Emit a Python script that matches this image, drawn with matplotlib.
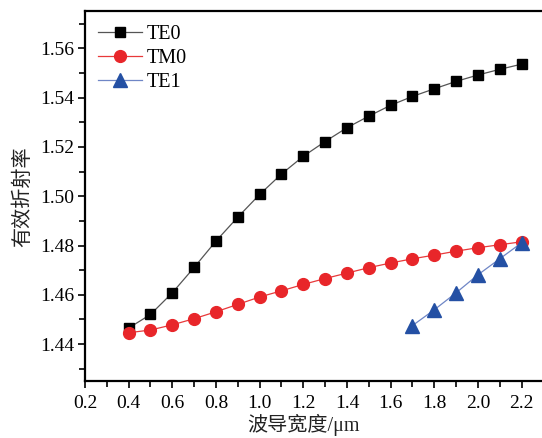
import matplotlib
matplotlib.use("Agg")
import matplotlib.pyplot as plt
from matplotlib.ticker import MultipleLocator

plt.rcParams['font.family'] = ['Liberation Serif', 'Noto Sans CJK SC']

width = [0.4, 0.5, 0.6, 0.7, 0.8, 0.9, 1.0, 1.1, 1.2, 1.3, 1.4, 1.5, 1.6, 1.7, 1.8, 1.9, 2.0, 2.1, 2.2]
te0 = [1.4465, 1.4520, 1.4608, 1.4711, 1.4818, 1.4915, 1.5007, 1.5090, 1.5162, 1.5222,
       1.5278, 1.5325, 1.5369, 1.5405, 1.5436, 1.5466, 1.5492, 1.5515, 1.5536]
tm0 = [1.4446, 1.4457, 1.4478, 1.4503, 1.4531, 1.4561, 1.4591, 1.4616, 1.4642, 1.4666,
       1.4688, 1.4710, 1.4729, 1.4746, 1.4761, 1.4777, 1.4791, 1.4803, 1.4815]
width_te1 = [1.7, 1.8, 1.9, 2.0, 2.1, 2.2]
te1 = [1.4475, 1.4539, 1.4608, 1.4681, 1.4746, 1.4811]
xticks = [0.2, 0.4, 0.6, 0.8, 1.0, 1.2, 1.4, 1.6, 1.8, 2.0, 2.2]
xticklabels = ['0.2', '0.4', '0.6', '0.8', '1.0', '1.2', '1.4', '1.6', '1.8', '2.0', '2.2']
yticks = [1.44, 1.46, 1.48, 1.50, 1.52, 1.54, 1.56]
yticklabels = ['1.44', '1.46', '1.48', '1.50', '1.52', '1.54', '1.56']

fig = plt.figure(figsize=(5.42, 4.38), dpi=100)
ax = fig.add_axes([0.1568, 0.1301, 0.8458, 0.8438])

ax.plot(width, te0, '-', color='#555555', lw=0.9, marker='s', ms=7.5,
        mfc='black', mec='black', label='TE0')
ax.plot(width, tm0, '-', color='#e8393a', lw=0.9, marker='o', ms=8.5,
        mfc='#e8262a', mec='#e8262a', label='TM0')
ax.plot(width_te1, te1, '-', color='#6f86c6', lw=0.9, marker='^', ms=9.5,
        mfc='#2450a4', mec='#2450a4', label='TE1')

ax.set_xlim(0.2, 2.3)
ax.set_ylim(1.425, 1.575)
ax.xaxis.set_minor_locator(MultipleLocator(0.1))
ax.yaxis.set_minor_locator(MultipleLocator(0.01))
ax.set_xticks(xticks)
ax.set_yticks(yticks)
ax.set_xticklabels(xticklabels)
ax.set_yticklabels(yticklabels)

ax.tick_params(which='both', direction='out', labelsize=14, width=1.2, colors='black')
ax.tick_params(which='major', length=5)
ax.tick_params(which='minor', length=4)
ax.tick_params(axis='x', pad=5)
ax.tick_params(axis='y', pad=3)
ax.tick_params(top=False, right=False, which='both')
for s in ax.spines.values():
    s.set_linewidth(1.6)

ax.set_xlabel('波导宽度/μm', fontsize=14.5, color='#222222')
ax.xaxis.set_label_coords((1.2 - 0.2) / 2.1, -0.088)
ax.set_ylabel('有效折射率', fontsize=14.5, color='#222222')
ax.yaxis.set_label_coords(-0.113, 0.5)

leg = ax.legend(loc='upper left', bbox_to_anchor=(0.0, 1.0), frameon=False,
                fontsize=14.5, handlelength=2.2, handletextpad=0.2,
                labelspacing=0.25, borderaxespad=0.25)

fig.savefig('out.png', dpi=100)
